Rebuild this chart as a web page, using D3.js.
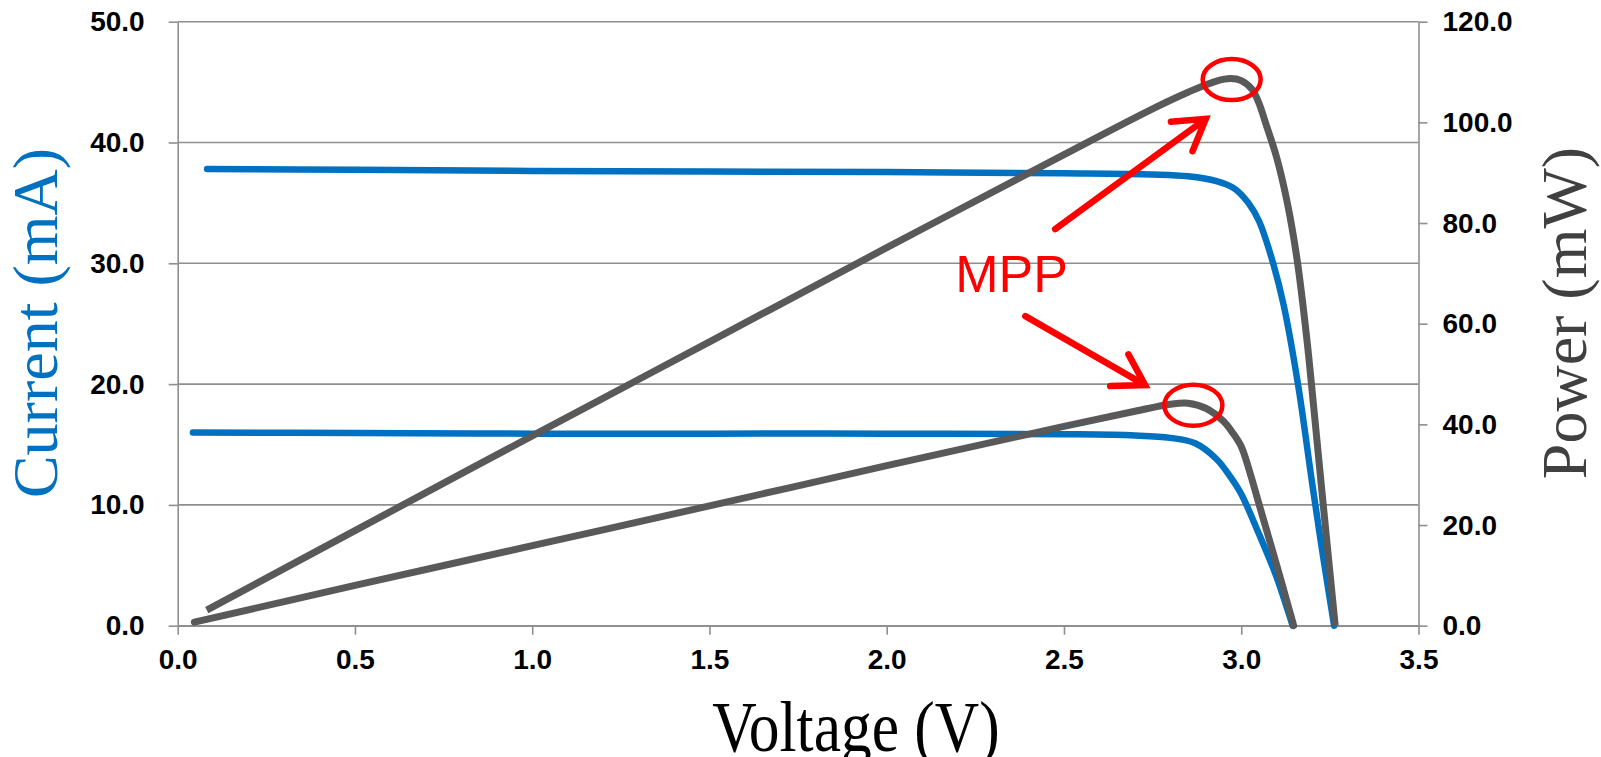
<!DOCTYPE html>
<html>
<head>
<meta charset="utf-8">
<script src="https://cdn.jsdelivr.net/npm/d3@7"></script>
<style>
  body { margin: 0; background: #fff; }
  #vis text { font-family: "Liberation Sans", Arial, sans-serif; }
</style>
</head>
<body>
<div id="vis"></div>
<script>
// high light level: current (mA) and power (mW) vs voltage (V)
var vHiI = [0.083, 0.5, 1.0, 1.5, 2.0, 2.5, 2.75, 2.85, 2.93, 2.98, 3.02, 3.05, 3.09, 3.12, 3.16, 3.2, 3.23, 3.262]
var iHi  = [37.8, 37.75, 37.65, 37.6, 37.55, 37.45, 37.35, 37.2, 36.8, 36.2, 35.0, 33.5, 30.0, 26.5, 20.0, 11.8, 5.9, 0]
var vHiP = [0.082, 0.5, 1.0, 1.5, 2.0, 2.5, 2.75, 2.85, 2.93, 2.97, 3.0, 3.03, 3.05, 3.07, 3.1, 3.13, 3.157, 3.185, 3.205, 3.232, 3.265]
var pHi  = [3.1, 18.9, 37.7, 56.4, 75.1, 93.6, 102.7, 106.0, 108.2, 108.7, 108.3, 106.6, 103.8, 99.6, 93.0, 84.0, 73.0, 57.0, 43.0, 23.5, 0]

// low light level
var vLoI = [0.043, 0.5, 1.0, 1.5, 2.0, 2.5, 2.7, 2.8, 2.87, 2.93, 2.97, 3.0, 3.05, 3.07, 3.1, 3.145]
var iLo  = [16.0, 15.95, 15.9, 15.9, 15.9, 15.85, 15.75, 15.55, 15.1, 13.8, 12.3, 10.9, 7.6, 6.2, 4.0, 0]
var vLoP = [0.047, 0.5, 1.0, 1.5, 2.0, 2.5, 2.7, 2.8, 2.85, 2.9, 2.95, 2.975, 3.0, 3.025, 3.05, 3.1, 3.148]
var pLo  = [0.7, 8.0, 15.9, 23.8, 31.8, 39.6, 42.6, 44.0, 44.2, 43.2, 40.6, 38.4, 35.6, 30.3, 24.2, 12.0, 0]

// ticks
var xTicks = [0, 0.5, 1.0, 1.5, 2.0, 2.5, 3.0, 3.5]
var iTicks = [0, 10, 20, 30, 40, 50]
var pTicks = [0, 20, 40, 60, 80, 100, 120]

// MPP annotation, in voltage / power units
var mppPeaks = [[2.973, 108.5], [2.865, 43.8]]
var mppArrows = [[[2.475, 78.8], [2.9, 100.7]], [[2.391, 61.5], [2.729, 47.8]]]
var mppLabel = [2.193, 66.2]

var width = 1601, height = 757
var mLeft = 177.7, mRight = 1418.5, mTop = 21.7, mBottom = 625.7

var x = d3.scaleLinear().domain([0, 3.5]).range([mLeft, mRight])
var yI = d3.scaleLinear().domain([0, 50]).range([mBottom, mTop])
var yP = d3.scaleLinear().domain([0, 120]).range([mBottom, mTop])

var svg = d3.select("#vis")
  .append("svg")
  .attr("width", width)
  .attr("height", height)

var gridCol = "#8f8f8f"

// horizontal grid
svg.append("g")
  .selectAll("line")
  .data(iTicks)
  .enter()
  .append("line")
  .attr("x1", mLeft).attr("x2", mRight)
  .attr("y1", d => yI(d)).attr("y2", d => yI(d))
  .style("stroke", gridCol)
  .style("stroke-width", "1.6px")

function styleAxis(g) {
  g.selectAll(".domain").style("stroke", gridCol).style("stroke-width", "1.6px")
  g.selectAll(".tick line").style("stroke", gridCol).style("stroke-width", "1.6px")
  g.selectAll(".tick text")
    .style("font-family", "'Liberation Sans', Arial, sans-serif")
    .style("font-weight", "bold")
    .style("font-size", "28px")
    .attr("fill", "#000")
}

var fmt = d3.format(".1f")

svg.append("g")
  .attr("transform", `translate(0,${mBottom})`)
  .call(d3.axisBottom(x).tickValues(xTicks).tickFormat(fmt).tickSize(9).tickSizeOuter(0).tickPadding(14))
  .call(styleAxis)

svg.append("g")
  .attr("transform", `translate(${mLeft},0)`)
  .call(d3.axisLeft(yI).tickValues(iTicks).tickFormat(fmt).tickSize(9).tickSizeOuter(0).tickPadding(24))
  .call(styleAxis)

svg.append("g")
  .attr("transform", `translate(${mRight},0)`)
  .call(d3.axisRight(yP).tickValues(pTicks).tickFormat(fmt).tickSize(9).tickSizeOuter(0).tickPadding(15))
  .call(styleAxis)

// curves
var lineI = d3.line().x(d => x(d[0])).y(d => yI(d[1])).curve(d3.curveCatmullRom.alpha(0.5))
var lineP = d3.line().x(d => x(d[0])).y(d => yP(d[1])).curve(d3.curveCatmullRom.alpha(0.5))

var curves = [
  {v: vHiI, y: iHi, fn: lineI, col: "#0070c0", w: 6.5, cap: "round"},
  {v: vLoI, y: iLo, fn: lineI, col: "#0070c0", w: 6.5, cap: "round"},
  {v: vHiP, y: pHi, fn: lineP, col: "#595959", w: 7, cap: "butt"},
  {v: vLoP, y: pLo, fn: lineP, col: "#595959", w: 7, cap: "round"}
]

svg.append("g")
  .selectAll("path")
  .data(curves)
  .enter()
  .append("path")
  .attr("d", c => c.fn(c.v.map((v, i) => [v, c.y[i]])))
  .style("fill", "none")
  .style("stroke", c => c.col)
  .style("stroke-width", c => c.w + "px")
  .style("stroke-linecap", c => c.cap)
  .style("stroke-linejoin", "round")

// MPP marks
var red = "#ff0000"
svg.append("g")
  .selectAll("ellipse")
  .data(mppPeaks)
  .enter()
  .append("ellipse")
  .attr("cx", d => x(d[0]))
  .attr("cy", d => yP(d[1]))
  .attr("rx", 29)
  .attr("ry", 20.5)
  .style("fill", "none")
  .style("stroke", red)
  .style("stroke-width", "4.5px")

var arrows = svg.append("g")
  .selectAll("g")
  .data(mppArrows)
  .enter()
  .append("g")
  .style("stroke", red)
  .style("stroke-width", "6.5px")
  .style("stroke-linecap", "round")
  .style("fill", "none")

arrows.append("path")
  .attr("d", a => {
    var x0 = x(a[0][0]), y0 = yP(a[0][1]), x1 = x(a[1][0]), y1 = yP(a[1][1])
    var ang = Math.atan2(y1 - y0, x1 - x0), L = 35, sp = 0.55
    var b1 = [x1 - L * Math.cos(ang - sp), y1 - L * Math.sin(ang - sp)]
    var b2 = [x1 - L * Math.cos(ang + sp), y1 - L * Math.sin(ang + sp)]
    return `M${x0},${y0}L${x1},${y1}M${b1}L${x1},${y1}L${b2}`
  })

svg.append("text")
  .attr("x", x(mppLabel[0]))
  .attr("y", yP(mppLabel[1]))
  .attr("fill", red)
  .style("font-family", "'Liberation Sans', Arial, sans-serif")
  .style("font-size", "52px")
  .text("MPP")

// axis titles
svg.append("text")
  .attr("transform", "translate(57,323) rotate(-90)")
  .attr("fill", "#0070c0")
  .style("text-anchor", "middle")
  .style("font-family", "'Liberation Serif', 'Times New Roman', serif")
  .style("font-size", "64px")
  .text("Current (mA)")

svg.append("text")
  .attr("transform", "translate(1586,313) rotate(-90)")
  .attr("fill", "#404040")
  .style("text-anchor", "middle")
  .style("font-family", "'Liberation Serif', 'Times New Roman', serif")
  .style("font-size", "64px")
  .text("Power (mW)")

svg.append("text")
  .attr("transform", "translate(856,751) scale(1,1.18)")
  .attr("fill", "#000")
  .style("text-anchor", "middle")
  .style("font-family", "'Liberation Serif', 'Times New Roman', serif")
  .style("font-size", "61.5px")
  .text("Voltage (V)")
</script>
</body>
</html>
